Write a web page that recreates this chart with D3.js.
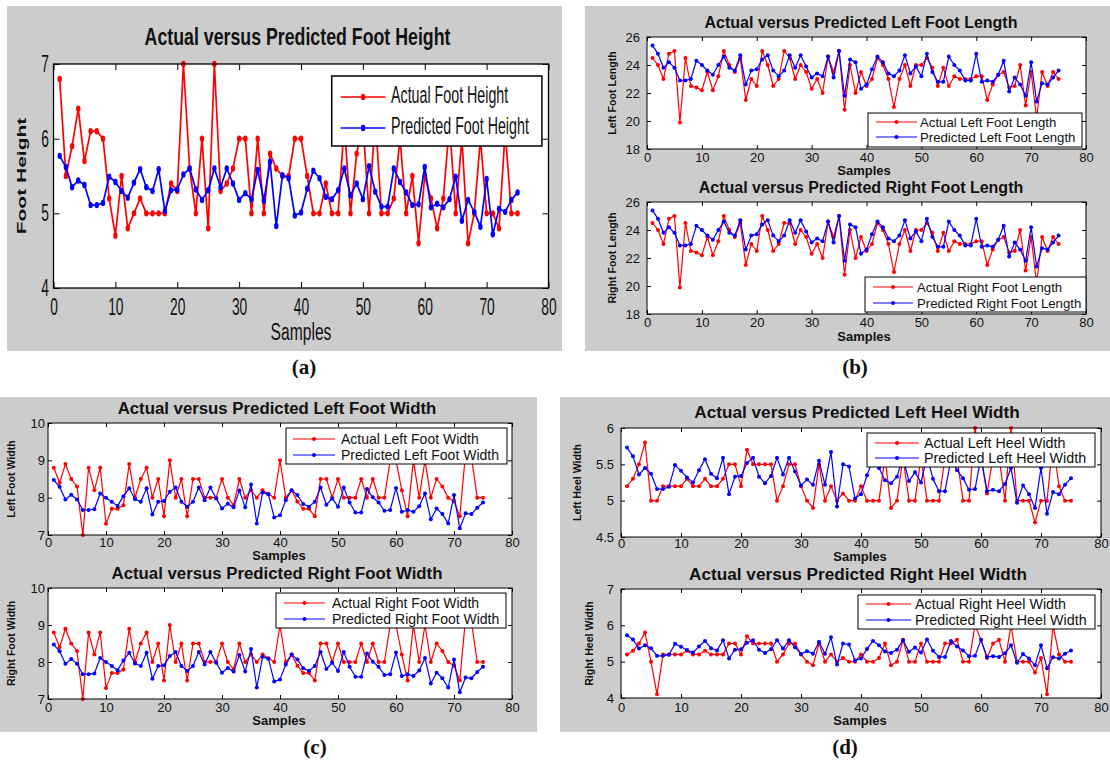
<!DOCTYPE html>
<html lang="en">
<head>
<meta charset="UTF-8">
<title>Actual versus Predicted Foot Measurements</title>
<script src="https://d3js.org/d3.v7.min.js"></script>
<style>
body { margin: 0; background: #fff; }
svg text { font-family: "Liberation Sans", Arial, sans-serif; fill: #111; }
.cap { font-family: "Liberation Serif", "Times New Roman", serif; font-weight: bold; }
</style>
</head>
<body>
<script>

// ---- data ----
const samples = [1,2,3,4,5,6,7,8,9,10,11,12,13,14,15,16,17,18,19,20,21,22,23,24,25,
  26,27,28,29,30,31,32,33,34,35,36,37,38,39,40,41,42,43,44,45,46,47,48,49,50,
  51,52,53,54,55,56,57,58,59,60,61,62,63,64,65,66,67,68,69,70,71,72,73,74,75];
const xTicks = [0,10,20,30,40,50,60,70,80];

const footHeightActual = [6.8,5.5,5.9,6.4,5.7,6.1,6.1,6.0,5.2,4.7,
  5.5,4.8,5.0,5.2,5.0,5.0,5.0,5.0,5.4,5.3,
  7.0,5.6,5.0,6.0,4.8,7.0,5.3,5.4,5.6,6.0,
  6.0,5.0,6.0,5.0,5.8,5.6,5.5,5.5,6.0,6.0,
  5.5,5.0,5.0,5.4,5.0,5.0,6.2,5.0,5.8,6.2,
  5.0,6.3,5.0,5.0,5.2,6.0,5.0,5.5,4.6,5.5,
  5.2,4.8,5.2,6.2,5.0,6.0,4.6,5.0,6.0,5.0,
  5.0,4.8,6.1,5.0,5.0];
const footHeightPredicted = [5.77,5.62,5.35,5.44,5.38,5.11,5.11,5.14,5.49,5.42,
  5.30,5.21,5.41,5.59,5.35,5.30,5.59,5.03,5.31,5.32,
  5.52,5.60,5.32,5.18,5.31,5.60,5.35,5.60,5.40,5.18,
  5.27,5.19,5.58,5.17,5.69,4.83,5.51,5.47,4.97,5.01,
  5.33,5.57,5.47,5.22,5.19,5.31,5.60,5.24,5.40,5.19,
  5.63,5.29,5.09,5.09,5.60,5.42,5.28,5.11,5.12,5.62,
  5.08,5.13,5.08,5.19,5.49,4.90,5.18,5.02,4.82,5.46,
  4.72,5.06,5.02,5.18,5.28];

const leftFootLengthActual = [24.5,24.0,23.0,24.8,25.0,19.9,24.5,22.5,22.4,22.2,
  23.5,22.2,23.2,25.0,24.0,23.5,24.5,21.5,23.0,22.5,
  25.0,24.0,22.5,23.0,25.0,24.5,23.0,24.0,23.5,22.3,
  23.0,22.0,24.6,23.5,25.0,20.8,24.0,22.0,23.5,22.5,
  23.0,24.5,24.0,23.0,21.0,23.0,24.0,22.5,24.0,24.0,
  24.5,23.8,22.5,23.8,22.5,23.2,23.0,23.0,23.0,23.2,
  23.2,21.5,22.6,23.3,23.5,22.4,22.5,24.0,21.1,23.5,
  20.2,23.5,22.5,23.5,23.0];
const leftFootLengthPredicted = [25.4,24.8,23.8,24.2,23.8,22.9,22.9,23.0,24.3,24.0,
  23.6,23.3,24.0,24.6,23.8,23.6,24.7,22.6,23.6,23.7,
  24.4,24.7,23.6,23.2,23.6,24.7,23.8,24.7,23.9,23.1,
  23.4,23.2,24.6,23.1,25.0,21.8,24.4,24.2,22.3,22.6,
  23.7,24.6,24.2,23.4,23.2,23.6,24.7,23.4,23.9,23.2,
  24.8,23.5,22.8,22.8,24.6,24.0,23.6,22.9,22.9,24.8,
  22.8,22.9,22.8,23.3,24.3,22.1,23.1,22.6,21.8,24.2,
  21.4,22.7,22.6,23.1,23.6];
const rightFootLengthActual = [24.5,24.0,23.0,24.8,25.0,19.9,24.5,22.5,22.4,22.2,
  23.5,22.2,23.2,25.0,24.0,23.5,24.5,21.5,23.0,22.5,
  25.0,24.0,22.5,23.0,24.5,24.5,23.0,24.0,23.5,22.3,
  23.0,22.0,24.6,23.5,25.0,20.8,24.0,22.0,23.5,22.5,
  23.0,24.5,24.0,23.0,21.0,23.0,24.0,22.5,24.0,24.0,
  24.5,23.8,22.5,23.8,22.5,23.2,23.0,23.0,23.0,23.2,
  23.2,21.5,22.6,23.3,23.5,22.4,22.5,24.0,21.1,23.5,
  20.2,23.5,22.5,23.5,23.0];
const rightFootLengthPredicted = [25.4,24.8,23.8,24.2,23.8,22.9,22.9,23.0,24.3,24.0,
  23.6,23.3,24.0,24.6,23.8,23.6,24.7,22.6,23.6,23.7,
  24.4,24.7,23.6,23.2,23.6,24.7,23.8,24.7,23.9,23.1,
  23.4,23.2,24.6,23.1,25.0,21.8,24.4,24.2,22.3,22.6,
  23.7,24.6,24.2,23.4,23.2,23.6,24.7,23.4,23.9,23.2,
  24.8,23.5,22.8,22.8,24.6,24.0,23.6,22.9,22.9,24.8,
  22.8,22.9,22.8,23.3,24.3,22.1,23.1,22.6,21.8,24.2,
  21.4,22.7,22.6,23.1,23.6];

const leftFootWidthActual = [8.8,8.4,8.9,8.5,8.3,7.0,8.8,8.2,8.8,7.3,
  7.7,7.7,7.8,8.9,8.0,8.5,8.8,8.0,8.5,7.5,
  9.0,8.0,8.5,7.5,8.5,8.5,8.0,8.0,8.0,8.5,
  8.0,7.8,8.5,8.0,8.2,8.0,8.2,8.1,8.0,9.0,
  8.0,8.2,7.9,7.7,7.7,7.5,8.5,8.5,8.0,8.5,
  8.0,8.0,8.0,8.5,8.0,8.5,8.0,8.0,9.0,9.0,
  8.2,7.5,9.0,8.0,9.0,8.0,8.5,8.3,8.0,7.9,
  7.5,9.2,9.1,8.0,8.0];
const leftFootWidthPredicted = [8.47,8.29,7.95,8.08,7.95,7.67,7.67,7.69,8.11,8.00,
  7.89,7.78,8.04,8.25,7.96,7.89,8.25,7.55,7.89,7.91,
  8.16,8.27,7.89,7.76,7.89,8.27,7.93,8.27,7.98,7.71,
  7.84,7.74,8.19,7.74,8.35,7.31,8.14,8.09,7.47,7.53,
  7.93,8.20,8.07,7.83,7.76,7.89,8.27,7.81,7.98,7.76,
  8.27,7.87,7.60,7.60,8.23,8.01,7.87,7.65,7.67,8.26,
  7.62,7.67,7.62,7.77,8.11,7.42,7.71,7.56,7.31,8.07,
  7.18,7.58,7.56,7.73,7.87];
const rightFootWidthActual = [8.8,8.4,8.9,8.5,8.3,7.0,8.8,8.2,8.8,7.3,
  7.7,7.7,7.8,8.9,8.0,8.5,8.8,8.0,8.5,7.5,
  9.0,8.0,8.5,7.5,8.5,8.5,8.0,8.0,8.0,8.5,
  8.0,7.8,8.5,8.0,8.2,8.0,8.2,8.1,8.0,9.0,
  8.0,8.2,7.9,7.7,7.7,7.5,8.5,8.5,8.0,8.5,
  8.0,8.0,8.0,8.5,8.0,8.5,8.0,8.0,9.0,9.0,
  8.2,7.5,9.0,8.0,9.0,8.0,8.5,8.3,8.0,7.9,
  7.5,9.2,9.1,8.0,8.0];
const rightFootWidthPredicted = [8.47,8.29,7.95,8.08,7.95,7.67,7.67,7.69,8.11,8.00,
  7.89,7.78,8.04,8.25,7.96,7.89,8.25,7.55,7.89,7.91,
  8.16,8.27,7.89,7.76,7.89,8.27,7.93,8.27,7.98,7.71,
  7.84,7.74,8.19,7.74,8.35,7.31,8.14,8.09,7.47,7.53,
  7.93,8.20,8.07,7.83,7.76,7.89,8.27,7.81,7.98,7.76,
  8.27,7.87,7.60,7.60,8.23,8.01,7.87,7.65,7.67,8.26,
  7.62,7.67,7.62,7.77,8.11,7.42,7.71,7.56,7.31,8.07,
  7.18,7.58,7.56,7.73,7.87];

const leftHeelWidthActual = [5.2,5.3,5.5,5.8,5.0,5.0,5.2,5.2,5.2,5.2,
  5.3,5.2,5.2,5.3,5.2,5.2,5.3,5.5,5.5,5.2,
  5.7,5.5,5.5,5.5,5.5,5.0,5.2,5.5,5.5,5.2,
  5.0,4.9,5.5,5.0,5.2,5.0,5.1,5.0,5.0,5.2,
  5.0,5.0,5.0,5.6,4.9,5.0,5.6,5.0,5.0,5.6,
  5.0,5.0,5.0,5.6,5.5,5.6,5.0,5.0,6.0,5.6,
  5.1,5.6,5.6,5.0,6.0,5.0,5.0,5.0,4.7,5.0,
  5.0,5.8,5.2,5.0,5.0];
const leftHeelWidthPredicted = [5.73,5.61,5.36,5.45,5.37,5.16,5.16,5.19,5.49,5.41,
  5.32,5.25,5.42,5.57,5.37,5.31,5.59,5.09,5.33,5.34,
  5.52,5.59,5.33,5.24,5.34,5.59,5.36,5.59,5.40,5.21,
  5.29,5.22,5.55,5.22,5.67,4.92,5.50,5.47,5.03,5.09,
  5.35,5.57,5.45,5.28,5.24,5.33,5.59,5.27,5.39,5.25,
  5.61,5.30,5.13,5.13,5.57,5.42,5.31,5.15,5.16,5.60,
  5.13,5.15,5.13,5.23,5.45,4.97,5.21,5.09,4.90,5.45,
  4.82,5.12,5.09,5.22,5.31];
const rightHeelWidthActual = [5.2,5.3,5.5,5.8,5.0,4.1,5.2,5.2,5.2,5.2,
  5.3,5.2,5.2,5.3,5.2,5.2,5.2,5.5,5.5,5.2,
  5.7,5.5,5.5,5.5,5.5,5.0,5.2,5.5,5.5,5.2,
  5.0,4.9,5.5,5.0,5.2,5.0,5.1,5.0,5.0,5.2,
  5.0,5.0,5.1,5.5,4.9,5.0,5.6,5.0,5.0,5.5,
  5.0,5.0,5.0,5.5,5.5,5.6,5.0,5.0,6.0,5.6,
  5.1,5.5,5.6,5.0,6.0,5.0,5.0,5.0,4.7,5.1,
  4.1,6.0,5.2,5.0,5.0];
const rightHeelWidthPredicted = [5.73,5.61,5.36,5.45,5.37,5.16,5.16,5.19,5.49,5.41,
  5.32,5.25,5.42,5.57,5.37,5.31,5.59,5.09,5.33,5.34,
  5.52,5.59,5.33,5.24,5.34,5.59,5.36,5.59,5.40,5.21,
  5.29,5.22,5.55,5.22,5.67,4.92,5.50,5.47,5.03,5.09,
  5.35,5.57,5.45,5.28,5.24,5.33,5.59,5.27,5.39,5.25,
  5.61,5.30,5.13,5.13,5.57,5.42,5.31,5.15,5.16,5.60,
  5.13,5.15,5.13,5.23,5.45,4.97,5.21,5.09,4.90,5.45,
  4.82,5.12,5.09,5.22,5.31];

// ---- layout ----
const W = 1110, H = 762;
const svg = d3.select("body").append("svg").attr("width", W).attr("height", H);

// grey figure backgrounds and sub-figure captions
const panels = [
  { box: [7, 6, 562, 351], cap: "(a)", capXY: [304, 374] },
  { box: [585, 6, 1110, 351], cap: "(b)", capXY: [855, 374] },
  { box: [0, 397, 537, 732], cap: "(c)", capXY: [315, 754] },
  { box: [560, 397, 1110, 732], cap: "(d)", capXY: [845, 754] }
];

// big (a) panel uses a squeezed font, the others are plain
const bigStyle = { titleSize: 24, titleSx: 0.74, tickSize: 23, tickSx: 0.6, labelSize: 23, labelSx: 0.68,
  labelWeight: "normal", yLabelSize: 21, yLabelSy: 0.62, legendSize: 23, legendSx: 0.62,
  lineW: 1.7, mrx: 2.2, mry: 3.2, tickLen: 6, frameW: 1.3, legendFrame: 1.5 };
const smallStyle = { titleSize: 16, titleSx: 1, tickSize: 13, tickSx: 1, labelSize: 13, labelSx: 1,
  labelWeight: "bold", yLabelSize: 10.6, yLabelSy: 1, legendSize: 13.2, legendSx: 1,
  lineW: 1.2, mrx: 2, mry: 2, tickLen: 4, frameW: 1, legendFrame: 1 };

const plots = [
  { style: bigStyle, plot: [53.5, 64, 548.5, 288], yDomain: [4, 7], yTicks: [4, 5, 6, 7],
    actual: footHeightActual, predicted: footHeightPredicted,
    names: ["Actual Foot Height", "Predicted Foot Height"],
    title: "Actual versus Predicted Foot Height", titleXY: [297.5, 44.5],
    yLabel: "Foot Height", yLabelX: 25.8, tickBase: 315, yTickRight: 49, samplesXY: [301, 340],
    legend: { box: [331.7, 76, 541.9, 146], rows: [97, 128], line: [340.7, 385.5], textX: 391, base: 6 } },
  { style: smallStyle, plot: [647, 37, 1086, 149], yDomain: [18, 26], yTicks: [18, 20, 22, 24, 26],
    actual: leftFootLengthActual, predicted: leftFootLengthPredicted,
    names: ["Actual Left Foot Length", "Predicted Left Foot Length"],
    title: "Actual versus Predicted Left Foot Length", titleXY: [861, 28],
    yLabel: "Left Foot Length", yLabelX: 615.7, tickBase: 162, yTickRight: 640, samplesXY: [864, 175],
    legend: { box: [868, 113, 1082, 147], rows: [122, 137], line: [876, 917], textX: 920, base: 4.6 } },
  { style: smallStyle, plot: [647, 202, 1086, 314], yDomain: [18, 26], yTicks: [18, 20, 22, 24, 26],
    actual: rightFootLengthActual, predicted: rightFootLengthPredicted,
    names: ["Actual Right Foot Length", "Predicted Right Foot Length"],
    title: "Actual versus Predicted Right Foot Length", titleXY: [861, 193],
    yLabel: "Right Foot Length", yLabelX: 615.7, tickBase: 327, yTickRight: 640, samplesXY: [864, 341],
    legend: { box: [865, 277, 1086, 312], rows: [287, 303], line: [873, 913], textX: 917, base: 4.6 } },
  { style: smallStyle, plot: [48, 423, 512, 535], yDomain: [7, 10], yTicks: [7, 8, 9, 10],
    actual: leftFootWidthActual, predicted: leftFootWidthPredicted,
    names: ["Actual Left Foot Width", "Predicted Left Foot Width"], legendSize: 14,
    title: "Actual versus Predicted Left Foot Width", titleXY: [277, 414], titleSize: 16.8,
    yLabel: "Left Foot Width", yLabelX: 15, tickBase: 547, yTickRight: 45, samplesXY: [279, 560],
    legend: { box: [286, 428, 507, 464], rows: [439, 455], line: [293, 335], textX: 341, base: 5 } },
  { style: smallStyle, plot: [48, 588, 512, 699], yDomain: [7, 10], yTicks: [7, 8, 9, 10],
    actual: rightFootWidthActual, predicted: rightFootWidthPredicted,
    names: ["Actual Right Foot Width", "Predicted Right Foot Width"], legendSize: 14,
    title: "Actual versus Predicted Right Foot Width", titleXY: [277, 579], titleSize: 16.8,
    yLabel: "Right Foot Width", yLabelX: 15, tickBase: 712, yTickRight: 45, samplesXY: [279, 725],
    legend: { box: [276, 593, 506, 628], rows: [603, 619], line: [284, 325], textX: 332, base: 5 } },
  { style: smallStyle, plot: [621, 428, 1101, 537], yDomain: [4.5, 6], yTicks: [4.5, 5, 5.5, 6],
    actual: leftHeelWidthActual, predicted: leftHeelWidthPredicted,
    names: ["Actual Left Heel Width", "Predicted Left Heel Width"], legendSize: 14.3,
    title: "Actual versus Predicted Left Heel Width", titleXY: [857, 418], titleSize: 17.2,
    yLabel: "Left Heel Width", yLabelX: 581, tickBase: 548, yTickRight: 614, samplesXY: [860, 561],
    legend: { box: [867, 433, 1095, 467], rows: [443, 458], line: [875, 919], textX: 924, base: 5 } },
  { style: smallStyle, plot: [621, 589, 1101, 698], yDomain: [4, 7], yTicks: [4, 5, 6, 7],
    actual: rightHeelWidthActual, predicted: rightHeelWidthPredicted,
    names: ["Actual Right Heel Width", "Predicted Right Heel Width"], legendSize: 14.3,
    title: "Actual versus Predicted Right Heel Width", titleXY: [858, 580], titleSize: 17.2,
    yLabel: "Right Heel Width", yLabelX: 592.5, tickBase: 712, yTickRight: 614, samplesXY: [860, 725],
    legend: { box: [858, 595, 1095, 629], rows: [604, 620], line: [866, 911], textX: 915, base: 5 } }
];

const RED = "#ff0000", BLUE = "#0000ff";

svg.selectAll("rect.panel")
  .data(panels)
  .enter().append("rect")
    .attr("class", "panel")
    .attr("x", d => d.box[0]).attr("y", d => d.box[1])
    .attr("width", d => d.box[2] - d.box[0]).attr("height", d => d.box[3] - d.box[1])
    .attr("fill", "#cccccc");

svg.selectAll("text.cap")
  .data(panels)
  .enter().append("text")
    .attr("class", "cap")
    .attr("x", d => d.capXY[0]).attr("y", d => d.capXY[1])
    .attr("text-anchor", "middle")
    .style("font-size", "21px")
    .text(d => d.cap);

function addText(g, x, y, str, size, sx, weight, anchor) {
  return g.append("text")
    .attr("transform", "translate(" + x + "," + y + ") scale(" + sx + ",1)")
    .attr("text-anchor", anchor || "middle")
    .style("font-size", size + "px")
    .style("font-weight", weight || "normal")
    .text(str);
}

function marker(g, cx, cy, color, s) {
  g.append("ellipse")
    .attr("cx", cx).attr("cy", cy)
    .attr("rx", s.mrx).attr("ry", s.mry)
    .attr("fill", color);
}

function drawPlot(p) {
  const s = p.style;
  const [x0, y0, x1, y1] = p.plot;
  const g = svg.append("g");

  const x = d3.scaleLinear().domain([0, 80]).range([x0, x1]);
  const y = d3.scaleLinear().domain(p.yDomain).range([y1, y0]);

  g.append("rect")
    .attr("x", x0).attr("y", y0).attr("width", x1 - x0).attr("height", y1 - y0)
    .attr("fill", "#fff");

  const line = d3.line()
    .x((d, i) => x(samples[i]))
    .y(d => y(d));

  const series = [{ vals: p.actual, color: RED }, { vals: p.predicted, color: BLUE }];
  series.forEach(sr => {
    g.append("path")
      .datum(sr.vals)
      .attr("d", line)
      .attr("fill", "none")
      .attr("stroke", sr.color)
      .attr("stroke-width", s.lineW)
      .attr("stroke-linejoin", "round");
    g.selectAll(null)
      .data(sr.vals)
      .enter().append("ellipse")
        .attr("cx", (d, i) => x(samples[i]))
        .attr("cy", d => y(d))
        .attr("rx", s.mrx).attr("ry", s.mry)
        .attr("fill", sr.color);
  });

  // axes, ticks pointing inwards like the matlab box
  const gx = g.append("g").attr("transform", "translate(0," + y1 + ")")
    .call(d3.axisBottom(x).tickValues(xTicks).tickSize(-s.tickLen).tickSizeOuter(0));
  gx.select(".domain").remove();
  gx.selectAll("text")
    .attr("y", p.tickBase - y1).attr("dy", null)
    .attr("transform", "scale(" + s.tickSx + ",1)")
    .style("font-size", s.tickSize + "px");

  const gxt = g.append("g").attr("transform", "translate(0," + y0 + ")")
    .call(d3.axisTop(x).tickValues(xTicks).tickSize(-s.tickLen).tickSizeOuter(0).tickFormat(""));
  gxt.select(".domain").remove();

  const gy = g.append("g").attr("transform", "translate(" + x0 + ",0)")
    .call(d3.axisLeft(y).tickValues(p.yTicks).tickSize(-s.tickLen).tickSizeOuter(0).tickFormat(d3.format("~g")));
  gy.select(".domain").remove();
  gy.selectAll("text")
    .attr("x", -(x0 - p.yTickRight) / s.tickSx)
    .attr("transform", "scale(" + s.tickSx + ",1)")
    .style("font-size", s.tickSize + "px");

  const gyr = g.append("g").attr("transform", "translate(" + x1 + ",0)")
    .call(d3.axisRight(y).tickValues(p.yTicks).tickSize(-s.tickLen).tickSizeOuter(0).tickFormat(""));
  gyr.select(".domain").remove();

  g.selectAll(".tick line").attr("stroke", "#000");

  g.append("rect")
    .attr("x", x0).attr("y", y0).attr("width", x1 - x0).attr("height", y1 - y0)
    .attr("fill", "none").attr("stroke", "#000").attr("stroke-width", s.frameW);

  // titles and labels
  addText(g, p.titleXY[0], p.titleXY[1], p.title, p.titleSize || s.titleSize, s.titleSx, "bold");
  addText(g, p.samplesXY[0], p.samplesXY[1], "Samples", s.labelSize, s.labelSx, s.labelWeight);
  g.append("text")
    .attr("transform", "translate(" + p.yLabelX + "," + (y0 + y1) / 2 + ") rotate(-90) scale(1," + s.yLabelSy + ")")
    .attr("text-anchor", "middle")
    .style("font-size", s.yLabelSize + "px")
    .style("font-weight", "bold")
    .text(p.yLabel);

  // legend
  const L = p.legend;
  g.append("rect")
    .attr("x", L.box[0]).attr("y", L.box[1])
    .attr("width", L.box[2] - L.box[0]).attr("height", L.box[3] - L.box[1])
    .attr("fill", "#fff").attr("stroke", "#000").attr("stroke-width", s.legendFrame);
  series.forEach((sr, k) => {
    const ry = L.rows[k];
    g.append("line")
      .attr("x1", L.line[0]).attr("x2", L.line[1]).attr("y1", ry).attr("y2", ry)
      .attr("stroke", sr.color).attr("stroke-width", s.lineW);
    marker(g, (L.line[0] + L.line[1]) / 2, ry, sr.color, s);
    addText(g, L.textX, ry + L.base, p.names[k], p.legendSize || s.legendSize, s.legendSx, "normal", "start");
  });
}

plots.forEach(drawPlot);

</script>
</body>
</html>
